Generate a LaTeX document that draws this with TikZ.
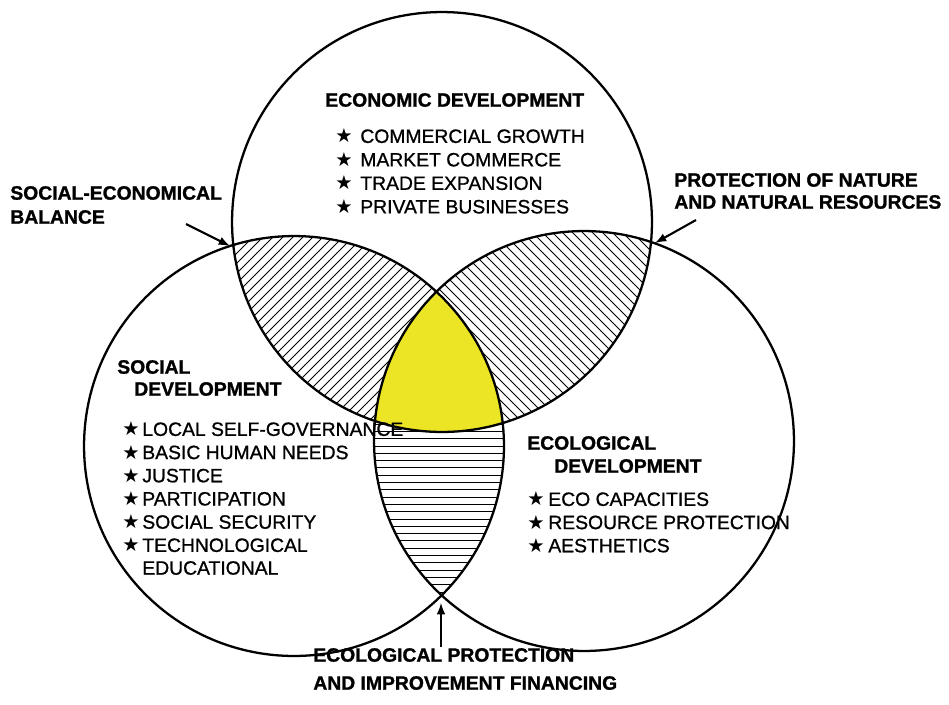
\documentclass[tikz,border=0pt]{standalone}
\usepackage{fontspec}
\setmainfont{Liberation Sans}
\newfontfamily\symfont{DejaVu Sans}
\newfontface\hdrface{Liberation Sans Bold}[FakeBold=1.2]
\newfontface\itmface{Liberation Sans}[FakeBold=0.9]
\usepackage{tikz}
\usetikzlibrary{arrows,positioning}
\usepackage{xcolor}
\definecolor{coreyellow}{RGB}{236,229,38}
\newcommand\bstar[1][0.4cm]{\makebox[#1][l]{\symfont\fontsize{11}{11}\selectfont ★}}

\begin{document}
\begin{tikzpicture} [
    x = 0.02cm, y = -0.02cm,
    ring/.style = { draw, line width = 1.3pt },
    hatch/.style = { line width = 0.5pt },
    hdr/.style = { anchor = west, inner sep = 0, font = \hdrface\fontsize{11}{13}\selectfont },
    itm/.style = { anchor = west, inner sep = 0, font = \itmface\fontsize{11}{13}\selectfont },
    pointer/.style = { -latex, line width = 1.2pt }
    ]
    \useasboundingbox (0,0) rectangle (949,704);
    \def\rad{4.2cm}
    \coordinate (ceco) at (442,222);
    \coordinate (csoc) at (294,446);
    \coordinate (cecl) at (584,441);

    % economic / social overlap
    \begin{scope}
      \clip (ceco) circle [radius = \rad];
      \clip (csoc) circle [radius = \rad];
      \foreach \c in {400,410,...,960} \draw [hatch] (\c,0) -- (0,\c);
    \end{scope}
    % economic / ecological overlap
    \begin{scope}
      \clip (ceco) circle [radius = \rad];
      \clip (cecl) circle [radius = \rad];
      \foreach \c in {-200,-190,...,500} \draw [hatch] (\c,0) -- (\c+800,800);
    \end{scope}
    % social / ecological overlap
    \begin{scope}
      \clip (csoc) circle [radius = \rad];
      \clip (cecl) circle [radius = \rad];
      \foreach \c in {300,307.3,...,660} \draw [hatch] (0,\c) -- (949,\c);
    \end{scope}
    % centre, over the hatching
    \begin{scope}
      \clip (ceco) circle [radius = \rad];
      \clip (csoc) circle [radius = \rad];
      \fill [coreyellow] (cecl) circle [radius = \rad];
    \end{scope}
    \draw [ring] (ceco) circle [radius = \rad] (csoc) circle [radius = \rad] (cecl) circle [radius = \rad];

    \node [hdr] (ecohead) at (325,100) {ECONOMIC DEVELOPMENT};
    \foreach \txt [count=\i] in {COMMERCIAL GROWTH,MARKET COMMERCE,TRADE EXPANSION,PRIVATE BUSINESSES}
      \node [itm] (eco\i) at (335,112.5+23.5*\i) {\bstar[0.5cm]\txt};

    \node [hdr] (sochead) at (117,367) {SOCIAL};
    \node [hdr] (sochead2) at (134,389) {DEVELOPMENT};
    \foreach \txt [count=\i] in {LOCAL SELF-GOVERNANCE,BASIC HUMAN NEEDS,JUSTICE,PARTICIPATION,SOCIAL SECURITY,TECHNOLOGICAL}
      \node [itm] (soc\i) at (122,405.8+23.2*\i) {\bstar\txt};
    \node [itm] (soc7) at (142,568) {EDUCATIONAL};

    \node [hdr] (eclhead) at (527,443) {ECOLOGICAL};
    \node [hdr] (eclhead2) at (554,466) {DEVELOPMENT};
    \foreach \txt [count=\i] in {ECO CAPACITIES,RESOURCE PROTECTION,AESTHETICS}
      \node [itm] (ecl\i) at (527,475.8+23.2*\i) {\bstar[0.42cm]\txt};

    % overlap labels
    \node [hdr] (balance) at (10,193) {SOCIAL-ECONOMICAL};
    \node [hdr] (balance2) at (10,217) {BALANCE};
    \node [hdr] (nature) at (674,180) {PROTECTION OF NATURE};
    \node [hdr] (nature2) at (674,202) {AND NATURAL RESOURCES};
    \node [hdr] (finance) at (313,655) {ECOLOGICAL PROTECTION};
    \node [hdr] (finance2) at (313,683) {AND IMPROVEMENT FINANCING};

    \coordinate (balfrom) at (186,224);
    \coordinate (balto) at (230,246);
    \coordinate (natfrom) at (696,220);
    \coordinate (natto) at (655,243);
    \coordinate (finfrom) at (441,647);
    \coordinate (finto) at (441,603);
    \draw [pointer] (balfrom) -- (balto);
    \draw [pointer] (natfrom) -- (natto);
    \draw [pointer] (finfrom) -- (finto);
\end{tikzpicture}
\end{document}
